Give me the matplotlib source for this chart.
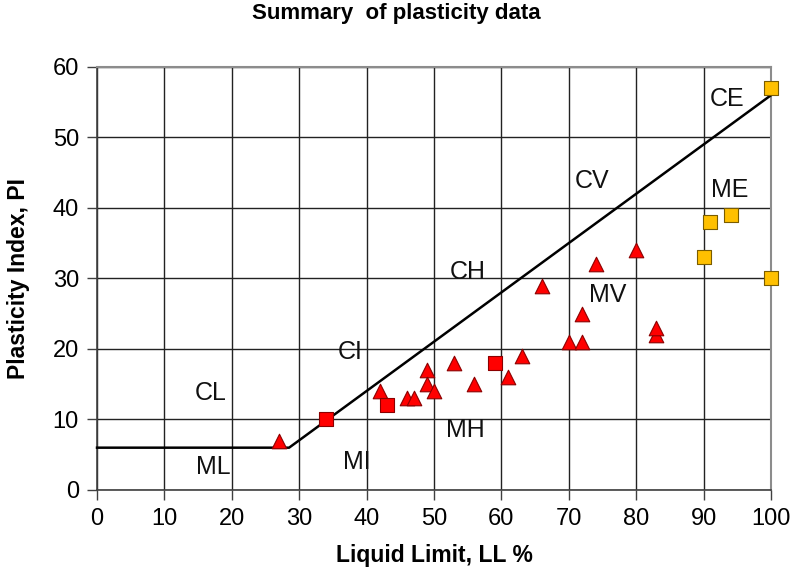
import matplotlib
matplotlib.use("Agg")
import matplotlib.pyplot as plt

plt.rcParams['font.family'] = ['Liberation Sans', 'DejaVu Sans']

# Data
tri_ll = [27, 42, 46, 47, 49, 49, 50, 53, 56, 61, 63, 66, 70, 72, 72, 74, 80, 83, 83]
tri_pi = [7, 14, 13, 13, 17, 15, 14, 18, 15, 16, 19, 29, 21, 21, 25, 32, 34, 22, 23]
red_sq_ll = [34, 43, 59]
red_sq_pi = [10, 12, 18]
org_sq_ll = [90, 91, 94, 100, 100]
org_sq_pi = [33, 38, 39, 57, 30]
aline_ll = [0, 28.5, 100]
aline_pi = [6, 6, 56]
zone_labels = ["CL", "ML", "CI", "MI", "CH", "MH", "CV", "MV", "CE", "ME"]
zone_ll = [16.8, 17.2, 37.5, 38.5, 55.0, 54.7, 73.5, 75.7, 93.5, 93.8]
zone_pi = [13.8, 3.3, 19.6, 4.0, 30.9, 8.5, 43.8, 27.7, 55.5, 42.6]

fig = plt.figure(figsize=(7.92, 5.72), dpi=100)
ax = fig.add_axes([0.1225, 0.1434, 0.851, 0.7395])

ax.set_xlim(0, 100)
ax.set_ylim(0, 60)
ax.set_xticks(range(0, 101, 10))
ax.set_yticks(range(0, 61, 10))
ax.grid(True, color='#222222', linewidth=1.0)
ax.set_axisbelow(True)

ax.plot(aline_ll, aline_pi, color='black', linewidth=1.8, zorder=3, clip_on=False)
ax.scatter(tri_ll, tri_pi, marker='^', s=110, color='#ff0000', edgecolors='#8b0000',
           linewidths=0.8, zorder=4, clip_on=False)
ax.scatter(red_sq_ll, red_sq_pi, marker='s', s=110, color='#ff0000', edgecolors='#8b0000',
           linewidths=0.8, zorder=4, clip_on=False)
ax.scatter(org_sq_ll, org_sq_pi, marker='s', s=110, color='#ffc000', edgecolors='#7a5c00',
           linewidths=0.8, zorder=4, clip_on=False)

for t, x, y in zip(zone_labels, zone_ll, zone_pi):
    ax.text(x, y, t, fontsize=18, ha='center', va='center', color='#111111', zorder=5)

for side in ['top', 'right']:
    ax.spines[side].set_color('#8c8c8c')
    ax.spines[side].set_linewidth(1.5)
for side in ['left', 'bottom']:
    ax.spines[side].set_color('#404040')
    ax.spines[side].set_linewidth(1.2)

ax.tick_params(axis='both', direction='out', length=7, width=1, color='#404040',
               labelsize=17)
ax.tick_params(axis='y', pad=6)
ax.tick_params(axis='x', pad=6)

ax.set_xlabel('Liquid Limit, LL %', fontsize=16.5, fontweight='bold', labelpad=10)
ax.set_ylabel('Plasticity Index, PI', fontsize=16.5, fontweight='bold')
ax.yaxis.set_label_coords(-0.099, 0.5)
fig.suptitle('Summary  of plasticity data', fontsize=16, fontweight='bold', y=0.995)

fig.savefig('out.png', dpi=100)
